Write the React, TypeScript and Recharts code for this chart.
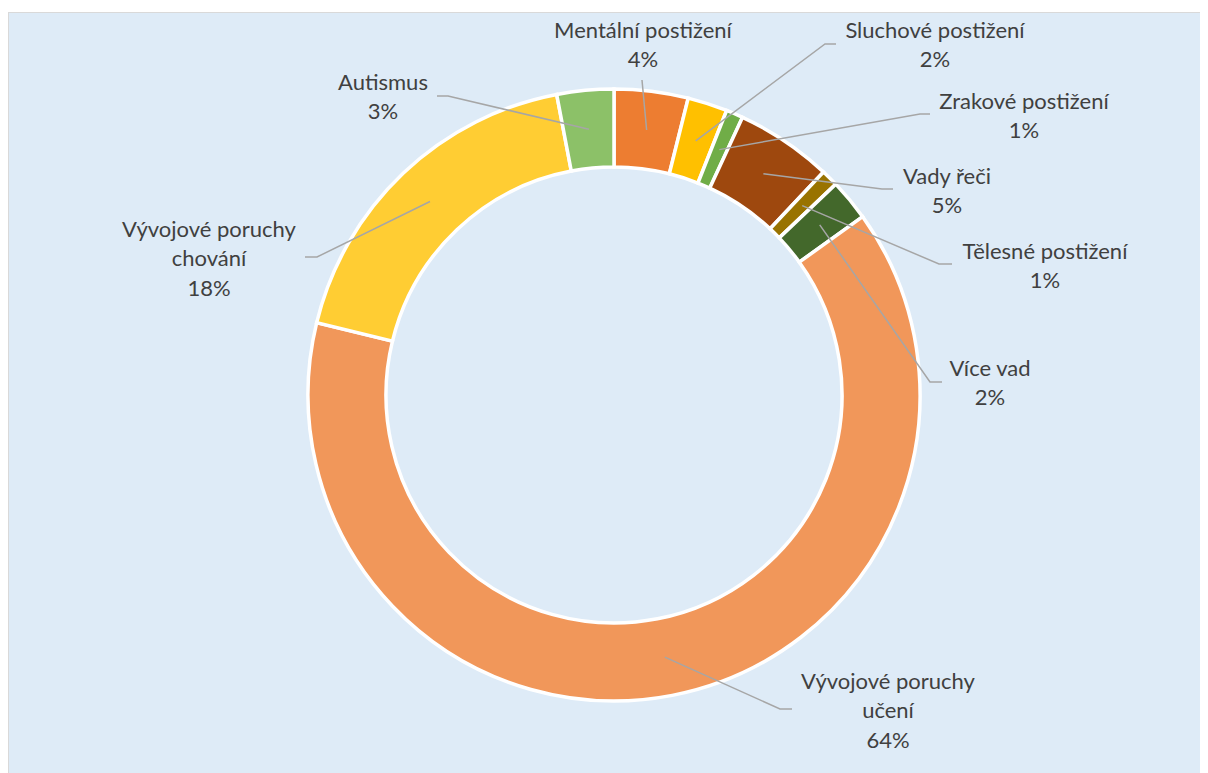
import React from 'react';
import { PieChart, Pie, Cell } from 'recharts';

// podíl žáků podle druhu znevýhodnění (%)
const categories = [
  'Mentální postižení',
  'Sluchové postižení',
  'Zrakové postižení',
  'Vady řeči',
  'Tělesné postižení',
  'Více vad',
  'Vývojové poruchy učení',
  'Vývojové poruchy chování',
  'Autismus',
];
const shares = [3.9, 2.1, 0.9, 5.1, 0.9, 2.2, 63.7, 18.2, 3.0];
const colors = ['#ED7D31', '#FFC000', '#70AD47', '#9E480E', '#997300', '#43682B', '#F1975A', '#FFCD33', '#8CC168'];

// label text lines
const labelLines = [
  ['Mentální postižení'],
  ['Sluchové postižení'],
  ['Zrakové postižení'],
  ['Vady řeči'],
  ['Tělesné postižení'],
  ['Více vad'],
  ['Vývojové poruchy', 'učení'],
  ['Vývojové poruchy', 'chování'],
  ['Autismus'],
];

// label placement relative to pie centre: text centre x, first line y, leader end (ex, ey), elbow length (signed)
const labelLayout = [
  { tx: 29, ty: -364, ex: 28, ey: -315, elbow: 0 },
  { tx: 321, ty: -364, ex: 211, ey: -351, elbow: 11 },
  { tx: 410, ty: -293, ex: 306, ey: -281, elbow: 10 },
  { tx: 333, ty: -218, ex: 268, ey: -206, elbow: 11 },
  { tx: 431, ty: -143, ex: 325, ey: -131, elbow: 13 },
  { tx: 376, ty: -26, ex: 316, ey: -13, elbow: 12 },
  { tx: 274, ty: 287, ex: 166, ey: 314, elbow: 12 },
  { tx: -405, ty: -165, ex: -297, ey: -138, elbow: -12 },
  { tx: -231, ty: -312, ex: -166, ey: -299, elbow: -11 },
];

const data = categories.map((name, i) => ({ name, value: shares[i] }));

const RAD = Math.PI / 180;
const LINE_H = 29.5;

const renderLabel = (props: any) => {
  const { cx, cy, midAngle, innerRadius, outerRadius, percent, index } = props;
  const r = (innerRadius + outerRadius) / 2;
  const sx = cx + r * Math.cos(-midAngle * RAD);
  const sy = cy + r * Math.sin(-midAngle * RAD);
  const l = labelLayout[index];
  const ex = cx + l.ex;
  const ey = cy + l.ey;
  const pts = l.elbow
    ? `${sx},${sy} ${ex},${ey} ${ex + l.elbow},${ey}`
    : `${sx},${sy} ${ex},${ey}`;
  const lines = [...labelLines[index], `${Math.round(percent * 100)}%`];
  return (
    <g key={`lbl-${index}`}>
      <polyline points={pts} fill="none" stroke="#A6A6A6" strokeWidth={1.5} />
      {lines.map((t, k) => (
        <text
          key={k}
          x={cx + l.tx}
          y={cy + l.ty + k * LINE_H - 2}
          textAnchor="middle"
          dominantBaseline="central"
          fill="#404040"
          fontSize={22}
          fontFamily="Lato, 'Noto Sans', sans-serif"
        >
          {t}
        </text>
      ))}
    </g>
  );
};

export default function App() {
  return (
    <div style={{
      marginTop: 4,
      width: 1208,
      height: 765,
      boxSizing: 'border-box',
      border: '1px solid #D9D9D9',
      background: '#DEEBF7',
      overflow: 'hidden',
    }}>
      <PieChart width={1198} height={760} margin={{ top: 0, right: 0, bottom: 0, left: 0 }}>
        <Pie
          data={data}
          dataKey="value"
          nameKey="name"
          cx={605}
          cy={382}
          innerRadius={228}
          outerRadius={306}
          startAngle={90}
          endAngle={-270}
          stroke="#FFFFFF"
          strokeWidth={3.5}
          label={renderLabel}
          labelLine={false}
          isAnimationActive={false}
        >
          {data.map((d, i) => (
            <Cell key={d.name} fill={colors[i]} />
          ))}
        </Pie>
      </PieChart>
    </div>
  );
}
